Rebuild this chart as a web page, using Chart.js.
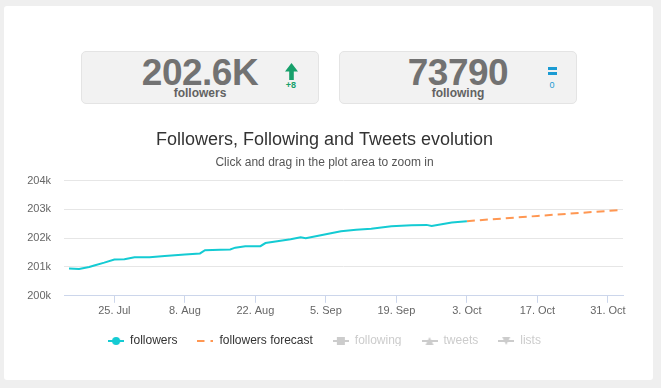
<!DOCTYPE html>
<html>
<head>
<meta charset="utf-8">
<script src="https://cdn.jsdelivr.net/npm/chart.js@4.4.0/dist/chart.umd.min.js"></script>
<style>
  html, body { margin:0; padding:0; width:661px; height:388px; overflow:hidden; background:#efefef;
    font-family:'Liberation Sans', Arial, sans-serif; }
  .card { position:absolute; left:4px; top:6px; width:649px; height:374px; background:#fff; border-radius:3px; }
  .kpi { position:absolute; top:51px; width:236px; height:51px; background:#f2f2f2; border:1px solid #e4e4e4; border-radius:5px; }
  .kpi .num { position:absolute; left:0; top:2px; width:100%; text-align:center; font-size:37px; line-height:37px;
    font-weight:bold; color:#727272; letter-spacing:-0.5px; }
  .kpi .lbl { position:absolute; left:0; top:35px; width:100%; text-align:center; font-size:12px; line-height:12px;
    font-weight:bold; color:#626262; }
  .kpi .delta { position:absolute; top:29px; width:20px; text-align:center; font-size:9px; line-height:9px; font-weight:bold; }
  #wrap { position:absolute; left:0; top:118px; width:661px; height:262px; }
</style>
</head>
<body>
<div class="card"></div>

<div class="kpi" style="left:81px">
  <div class="num">202.6K</div>
  <div class="lbl">followers</div>
  <svg style="position:absolute;left:203px;top:11px" width="13" height="17" viewBox="0 0 13 17">
    <polygon points="6.5,0 13,8.5 8.8,8.5 8.8,17 4.2,17 4.2,8.5 0,8.5" fill="#17a06b"/>
  </svg>
  <div class="delta" style="left:199px;color:#17a06b">+8</div>
</div>

<div class="kpi" style="left:339px">
  <div class="num">73790</div>
  <div class="lbl">following</div>
  <div style="position:absolute;left:208px;top:15px;width:9px;height:3px;background:#1b9bd3"></div>
  <div style="position:absolute;left:208px;top:20px;width:9px;height:3px;background:#1b9bd3"></div>
  <div class="delta" style="left:202px;color:#1b9bd3;font-weight:normal">0</div>
</div>

<div id="wrap"><canvas id="chart" width="661" height="262"></canvas></div>

<script>
// --- data ---
const followerDates = [
  '2015-07-16','2015-07-18','2015-07-20','2015-07-21','2015-07-23','2015-07-25','2015-07-27','2015-07-29',
  '2015-08-01','2015-08-04','2015-08-08','2015-08-11','2015-08-12','2015-08-15','2015-08-17','2015-08-18',
  '2015-08-20','2015-08-23','2015-08-24','2015-08-26','2015-08-29','2015-08-31','2015-09-01','2015-09-04',
  '2015-09-06','2015-09-08','2015-09-11','2015-09-14','2015-09-16','2015-09-18','2015-09-22','2015-09-25',
  '2015-09-26','2015-09-28','2015-09-30','2015-10-03'
];
const followerValues = [
  200950, 200930, 201000, 201050, 201150, 201260, 201270, 201340,
  201340, 201380, 201430, 201470, 201580, 201600, 201610, 201670,
  201720, 201720, 201830, 201880, 201960, 202030, 202000, 202100,
  202170, 202240, 202290, 202330, 202370, 202410, 202450, 202460,
  202420, 202480, 202540, 202590
];
const forecastDates = ['2015-10-03', '2015-10-17', '2015-11-02'];
const forecastValues = [202590, 202770, 202970];

const xMinDate = '2015-07-15';
const xMaxDate = '2015-11-03';
const xTickDates = ['2015-07-25','2015-08-08','2015-08-22','2015-09-05','2015-09-19','2015-10-03','2015-10-17','2015-10-31'];
const yTicks = [200000, 201000, 202000, 203000, 204000];

const seriesNames = ['followers', 'followers forecast', 'following', 'tweets', 'lists'];
const monthNames = ['Jan','Feb','Mar','Apr','May','Jun','Jul','Aug','Sep','Oct','Nov','Dec'];

// --- helpers ---
const ms = s => Date.parse(s);
const toPoints = (dates, vals) => dates.map((d, i) => ({ x: ms(d), y: vals[i] }));
function fmtDate(v) {
  const d = new Date(v);
  return d.getUTCDate() + '. ' + monthNames[d.getUTCMonth()];
}

const CYAN = '#14cbd3', ORANGE = '#ff9752', GREY = '#cccccc';

// small legend symbol: line with a marker in the middle
function legendIcon(color, marker, dash) {
  const c = document.createElement('canvas');
  c.width = 16; c.height = 12;
  const g = c.getContext('2d');
  g.strokeStyle = color; g.fillStyle = color; g.lineWidth = 2;
  if (dash) g.setLineDash(dash);
  g.beginPath(); g.moveTo(0, 6); g.lineTo(16, 6); g.stroke();
  g.setLineDash([]);
  g.beginPath();
  if (marker === 'circle') g.arc(8, 6, 4, 0, Math.PI * 2);
  else if (marker === 'square') g.rect(4, 2, 8, 8);
  else if (marker === 'triangle') { g.moveTo(8, 2); g.lineTo(12, 10); g.lineTo(4, 10); }
  else if (marker === 'triangle-down') { g.moveTo(4, 2); g.lineTo(12, 2); g.lineTo(8, 10); }
  g.closePath();
  if (marker) g.fill();
  return c;
}

const legendIcons = [
  legendIcon(CYAN, 'circle'),
  legendIcon(ORANGE, null, [7, 6]),
  legendIcon(GREY, 'square'),
  legendIcon(GREY, 'triangle'),
  legendIcon(GREY, 'triangle-down')
];

// tighter legend: shorter block, then nudged up so the x labels keep their room
const legendTrim = {
  id: 'legendTrim',
  beforeLayout(chart) {
    const lg = chart.legend;
    if (lg && !lg._trimmed) {
      const fit = lg.fit;
      lg.fit = function () { fit.call(this); this.height -= 11; };
      lg._trimmed = true;
    }
  },
  afterLayout(chart) {
    const lg = chart.legend;
    if (lg) { lg.top -= 5; lg.bottom -= 5; }
  }
};

Chart.defaults.font.family = "'Liberation Sans', Arial, sans-serif";

new Chart(document.getElementById('chart'), {
  type: 'line',
  data: {
    datasets: [
      { label: seriesNames[0], data: toPoints(followerDates, followerValues), borderColor: CYAN,
        borderWidth: 2, pointRadius: 0, tension: 0 },
      { label: seriesNames[1], data: toPoints(forecastDates, forecastValues), borderColor: ORANGE,
        borderWidth: 2, borderDash: [8, 5], pointRadius: 0, tension: 0 },
      { label: seriesNames[2], data: [], hidden: true },
      { label: seriesNames[3], data: [], hidden: true },
      { label: seriesNames[4], data: [], hidden: true }
    ]
  },
  plugins: [legendTrim],
  options: {
    responsive: false,
    animation: false,
    layout: { padding: { top: 11, left: 26, right: 38, bottom: 29 } },
    plugins: {
      title: { display: true, text: 'Followers, Following and Tweets evolution', color: '#333333',
        font: { size: 18, weight: 'normal' }, padding: { top: 0, bottom: 5 } },
      subtitle: { display: true, text: 'Click and drag in the plot area to zoom in', color: '#555555',
        font: { size: 12 }, padding: { top: 0, bottom: 10.5 } },
      legend: {
        position: 'bottom',
        onClick: null,
        labels: {
          usePointStyle: true, pointStyleWidth: 16, boxHeight: 12, padding: 20,
          font: { size: 12 },
          generateLabels: chart => chart.data.datasets.map((ds, i) => ({
            text: ds.label,
            datasetIndex: i,
            hidden: false,
            fontColor: i < 2 ? '#333333' : GREY,
            pointStyle: legendIcons[i],
            lineWidth: 0,
            strokeStyle: 'transparent',
            fillStyle: 'transparent'
          }))
        }
      },
      tooltip: { enabled: false }
    },
    scales: {
      x: {
        type: 'linear',
        min: ms(xMinDate), max: ms(xMaxDate),
        afterBuildTicks: s => { s.ticks = xTickDates.map(d => ({ value: ms(d) })); },
        ticks: { callback: v => fmtDate(v), color: '#666666', font: { size: 11 }, padding: 2,
          maxRotation: 0, autoSkip: false },
        grid: { drawOnChartArea: false, color: '#ccd6eb', tickLength: 7 },
        border: { color: '#ccd6eb' }
      },
      y: {
        min: yTicks[0], max: yTicks[yTicks.length - 1],
        afterBuildTicks: s => { s.ticks = yTicks.map(v => ({ value: v })); },
        afterFit: s => { s.width = 38; },
        ticks: { callback: v => (v / 1000) + 'k', color: '#666666', font: { size: 11 }, padding: 13 },
        grid: { color: '#e6e6e6', drawTicks: false },
        border: { display: false }
      }
    }
  }
});
</script>
</body>
</html>
